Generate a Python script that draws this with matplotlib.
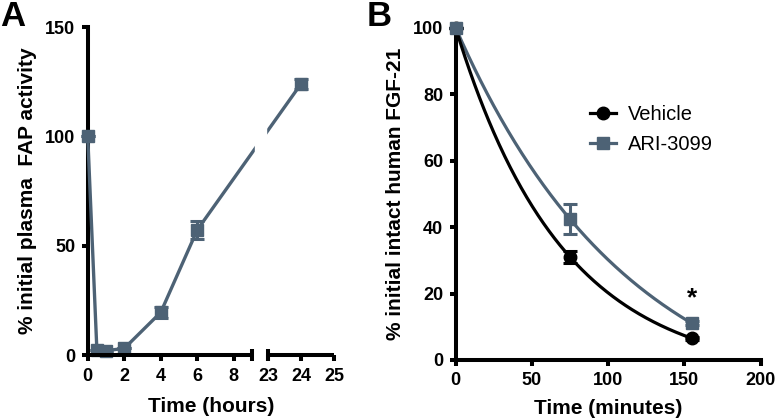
import numpy as np
import matplotlib
matplotlib.use("Agg")
import matplotlib.pyplot as plt

plt.rcParams['font.family'] = ['Liberation Sans', 'DejaVu Sans']
plt.rcParams['font.weight'] = 'bold'
plt.rcParams['axes.labelweight'] = 'bold'

# --- panel A: plasma FAP activity ---
t_hours = np.array([0, 0.5, 1, 2, 4, 6, 24])
fap = np.array([100, 2.5, 2.0, 3.0, 19.5, 57.2, 124.0])
fap_err = np.array([0, 0, 0, 0, 2.6, 4.3, 2.4])
a_xticks = [0, 2, 4, 6, 8, 23, 24, 25]
a_yticks = [0, 50, 100, 150]

# --- panel B: intact FGF-21 ---
t_min = np.array([0, 75, 155])
vehicle = np.array([100, 31.0, 6.5])
vehicle_err = np.array([0, 1.9, 0.5])
ari = np.array([100, 42.4, 11.0])
ari_err = np.array([0, 4.5, 0.6])
b_xticks = [0, 50, 100, 150, 200]
b_yticks = [0, 20, 40, 60, 80, 100]

GREY = '#4d6275'
LW = 2.9

def fit_decay(t, y):
    # one-phase decay Y = (Y0-P)exp(-kt)+P, grid search on k
    best = None
    for k in np.linspace(0.001, 0.08, 4000):
        e = np.exp(-k * t)
        A = np.column_stack([e, 1 - e])
        coef = np.linalg.lstsq(A, y, rcond=None)[0]
        err = np.sum((A @ coef - y) ** 2)
        if best is None or err < best[0]:
            best = (err, k, coef)
    _, k, (y0, p) = best
    return lambda x: (y0 - p) * np.exp(-k * x) + p

# broken x axis for A: 0-9 h then 23-25 h, stretched
G, R = 0.877, 1.808
br_t = [-100, 0, 9, 23, 25, 125]
br_u = [-100, 0, 9, 9 + G, 9 + G + 2 * R, 9 + G + 2 * R + 100 * R]
fwd = lambda t: np.interp(t, br_t, br_u)
inv = lambda u: np.interp(u, br_u, br_t)

fig = plt.figure(figsize=(7.75, 4.18), dpi=100)
axA = fig.add_axes([0.1132, 0.1507, 0.3178, 0.7847])
axB = fig.add_axes([0.588, 0.1388, 0.3935, 0.7943])

for ax in (axA, axB):
    for s in ('top', 'right'):
        ax.spines[s].set_visible(False)
    for s in ('left', 'bottom'):
        ax.spines[s].set_linewidth(LW)
    ax.tick_params(direction='out', length=4, width=LW, labelsize=13, pad=5)

# ----- A -----
axA.set_xscale('function', functions=(fwd, inv))
axA.set_xlim(0, 25)
axA.set_ylim(0, 150)
axA.set_xticks(a_xticks)
axA.set_yticks(a_yticks)
axA.set_xticklabels([str(v) for v in a_xticks])
axA.spines['bottom'].set_visible(False)
axA.errorbar(t_hours, fap, yerr=fap_err, color=GREY, lw=2.4, marker='s', ms=8.5,
             capsize=5, capthick=2.2, elinewidth=2.2, clip_on=False, zorder=3)
axA.axvspan(11.7, 21.3, color='white', zorder=4)
for seg in ([0, 9], [23, 25]):
    axA.plot(seg, [0, 0], color='k', lw=LW, solid_capstyle='butt', clip_on=False, zorder=5)
axA.plot([9, 23], [0, 0], ls='none', marker='|', ms=8, mew=LW, color='k', clip_on=False, zorder=5)
axA.set_xlabel('Time (hours)', fontsize=15, fontweight='bold', labelpad=9)
axA.set_ylabel('% initial plasma  FAP activity', fontsize=15, fontweight='bold', labelpad=6)
fig.text(0.0, 1.0, 'A', fontsize=25, fontweight='bold', va='top', ha='left')

# ----- B -----
axB.set_xlim(0, 200)
axB.set_ylim(0, 100)
axB.set_xticks(b_xticks)
axB.set_yticks(b_yticks)
xs = np.linspace(0, t_min[-1], 300)
f_veh = fit_decay(t_min, vehicle)
f_ari = fit_decay(t_min, ari)
axB.plot(xs, f_ari(xs), color=GREY, lw=2.3, zorder=2)
axB.plot(xs, f_veh(xs), color='k', lw=2.3, zorder=2)
axB.errorbar(t_min, vehicle, yerr=vehicle_err, color='k', ls='none', marker='o', ms=9,
             capsize=5, capthick=2.2, elinewidth=2.2, clip_on=False, zorder=3)
axB.errorbar(t_min, ari, yerr=ari_err, color=GREY, ls='none', marker='s', ms=8.5,
             capsize=5, capthick=2.2, elinewidth=2.2, clip_on=False, zorder=3)
axB.text(t_min[-1], 18.7, '*', fontsize=19, fontweight='bold', ha='center', va='center')
h_veh = axB.errorbar([], [], color='k', lw=2.3, marker='o', ms=9)
h_ari = axB.errorbar([], [], color=GREY, lw=2.3, marker='s', ms=8.5)
axB.legend([h_veh, h_ari], ['Vehicle', 'ARI-3099'], loc='upper left',
           bbox_to_anchor=(0.44, 0.768), frameon=False,
           prop={'size': 14.5, 'weight': 'normal'},
           handlelength=1.3, handletextpad=0.6, labelspacing=0.55, borderpad=0, borderaxespad=0)
axB.set_xlabel('Time (minutes)', fontsize=15, fontweight='bold', labelpad=7)
axB.set_ylabel('% initial intact human FGF-21', fontsize=15, fontweight='bold', labelpad=6)
fig.text(0.473, 1.0, 'B', fontsize=25, fontweight='bold', va='top', ha='left')

fig.savefig('out.png', dpi=100)
